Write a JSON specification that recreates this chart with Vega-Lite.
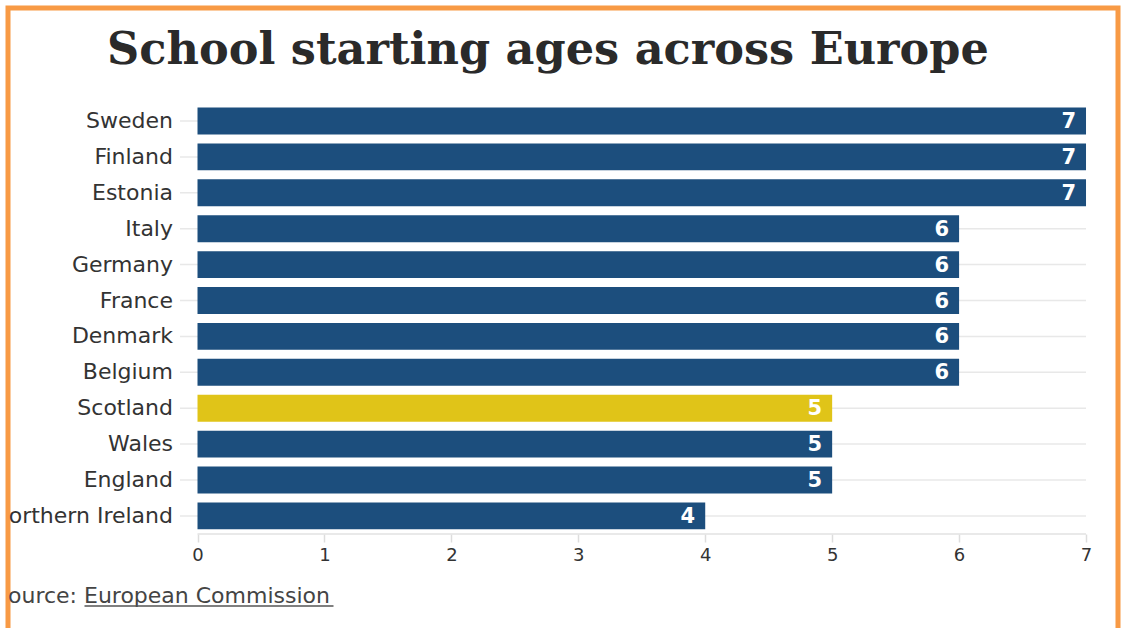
{
  "$schema": "https://vega.github.io/schema/vega-lite/v6.json",
  "autosize": {"type": "none"},
  "padding": {"left": 8, "top": 8, "right": 3, "bottom": -10},
  "width": 1110,
  "height": 630,
  "background": "#ffffff",
  "config": {
    "view": {"stroke": "#f89a45", "strokeWidth": 5, "fill": "#ffffff"}
  },
  "title": {
    "text": "School starting ages across Europe",
    "anchor": "middle",
    "frame": "group",
    "dx": -15,
    "offset": -101,
    "baseline": "alphabetic",
    "font": "DejaVu Serif",
    "fontSize": 44.6,
    "fontWeight": "bold",
    "color": "#2a2a2a"
  },
  "datasets": {
    "ages": [
      {"country": "Sweden", "age": 7, "group": "other"},
      {"country": "Finland", "age": 7, "group": "other"},
      {"country": "Estonia", "age": 7, "group": "other"},
      {"country": "Italy", "age": 6, "group": "other"},
      {"country": "Germany", "age": 6, "group": "other"},
      {"country": "France", "age": 6, "group": "other"},
      {"country": "Denmark", "age": 6, "group": "other"},
      {"country": "Belgium", "age": 6, "group": "other"},
      {"country": "Scotland", "age": 5, "group": "Scotland"},
      {"country": "Wales", "age": 5, "group": "other"},
      {"country": "England", "age": 5, "group": "other"},
      {"country": "Northern Ireland", "age": 4, "group": "other"}
    ],
    "source": [
      {"label": "Source: European Commission"}
    ]
  },
  "layer": [
    {
      "data": {"name": "ages"},
      "mark": {"type": "rule", "color": "#e8e8e8", "strokeWidth": 1.5},
      "encoding": {
        "y": {
          "field": "country",
          "type": "nominal",
          "scale": {
            "domain": ["Sweden", "Finland", "Estonia", "Italy", "Germany", "France", "Denmark", "Belgium", "Scotland", "Wales", "England", "Northern Ireland"],
            "range": [95.05, 525.85],
            "paddingInner": 0.25,
            "paddingOuter": 0.125
          },
          "axis": null
        },
        "x": {
          "datum": -0.138,
          "type": "quantitative",
          "scale": {"domain": [-1.493, 7.252], "zero": false, "nice": false},
          "axis": {
            "orient": "bottom",
            "offset": -104,
            "values": [0, 1, 2, 3, 4, 5, 6, 7],
            "format": "d",
            "domain": false,
            "grid": false,
            "title": null,
            "ticks": true,
            "tickSize": 8,
            "tickColor": "#dddddd",
            "tickWidth": 1.5,
            "labelFont": "DejaVu Sans",
            "labelFontSize": 18,
            "labelColor": "#333333",
            "labelPadding": 4,
            "labelFlush": false
          }
        },
        "x2": {"datum": 7}
      }
    },
    {
      "data": {"name": "source"},
      "mark": {"type": "rule", "color": "#e2e2e2", "strokeWidth": 1.5, "yOffset": 18},
      "encoding": {
        "y": {"datum": "Northern Ireland", "type": "nominal"},
        "x": {"datum": 0, "type": "quantitative"},
        "x2": {"datum": 7}
      }
    },
    {
      "data": {"name": "ages"},
      "mark": {"type": "bar"},
      "encoding": {
        "y": {"field": "country", "type": "nominal"},
        "x": {"field": "age", "type": "quantitative"},
        "x2": {"datum": 0},
        "color": {
          "field": "group",
          "type": "nominal",
          "scale": {"domain": ["other", "Scotland"], "range": ["#1c4e7d", "#e0c418"]},
          "legend": null
        }
      }
    },
    {
      "data": {"name": "ages"},
      "mark": {"type": "text", "align": "right", "baseline": "middle", "dx": -10, "dy": 1, "font": "DejaVu Sans", "fontSize": 21, "fontWeight": "bold", "color": "#ffffff"},
      "encoding": {
        "y": {"field": "country", "type": "nominal"},
        "x": {"field": "age", "type": "quantitative"},
        "text": {"field": "age", "type": "quantitative"}
      }
    },
    {
      "data": {"name": "ages"},
      "mark": {"type": "text", "align": "right", "baseline": "middle", "dx": -24.5, "font": "DejaVu Sans", "fontSize": 22, "color": "#333333", "clip": true},
      "encoding": {
        "y": {"field": "country", "type": "nominal"},
        "x": {"datum": 0, "type": "quantitative"},
        "text": {"field": "country", "type": "nominal"}
      }
    },
    {
      "data": {"name": "source"},
      "mark": {"type": "text", "align": "left", "baseline": "middle", "dy": 80, "font": "DejaVu Sans", "fontSize": 22, "color": "#444444", "clip": true},
      "encoding": {
        "y": {"datum": "Northern Ireland", "type": "nominal"},
        "x": {"datum": -1.6032, "type": "quantitative"},
        "text": {"field": "label", "type": "nominal"}
      }
    },
    {
      "data": {"name": "source"},
      "mark": {"type": "rule", "color": "#555555", "strokeWidth": 1.5, "yOffset": 90},
      "encoding": {
        "y": {"datum": "Northern Ireland", "type": "nominal"},
        "x": {"datum": -0.8903, "type": "quantitative"},
        "x2": {"datum": 1.0714}
      }
    }
  ]
}
